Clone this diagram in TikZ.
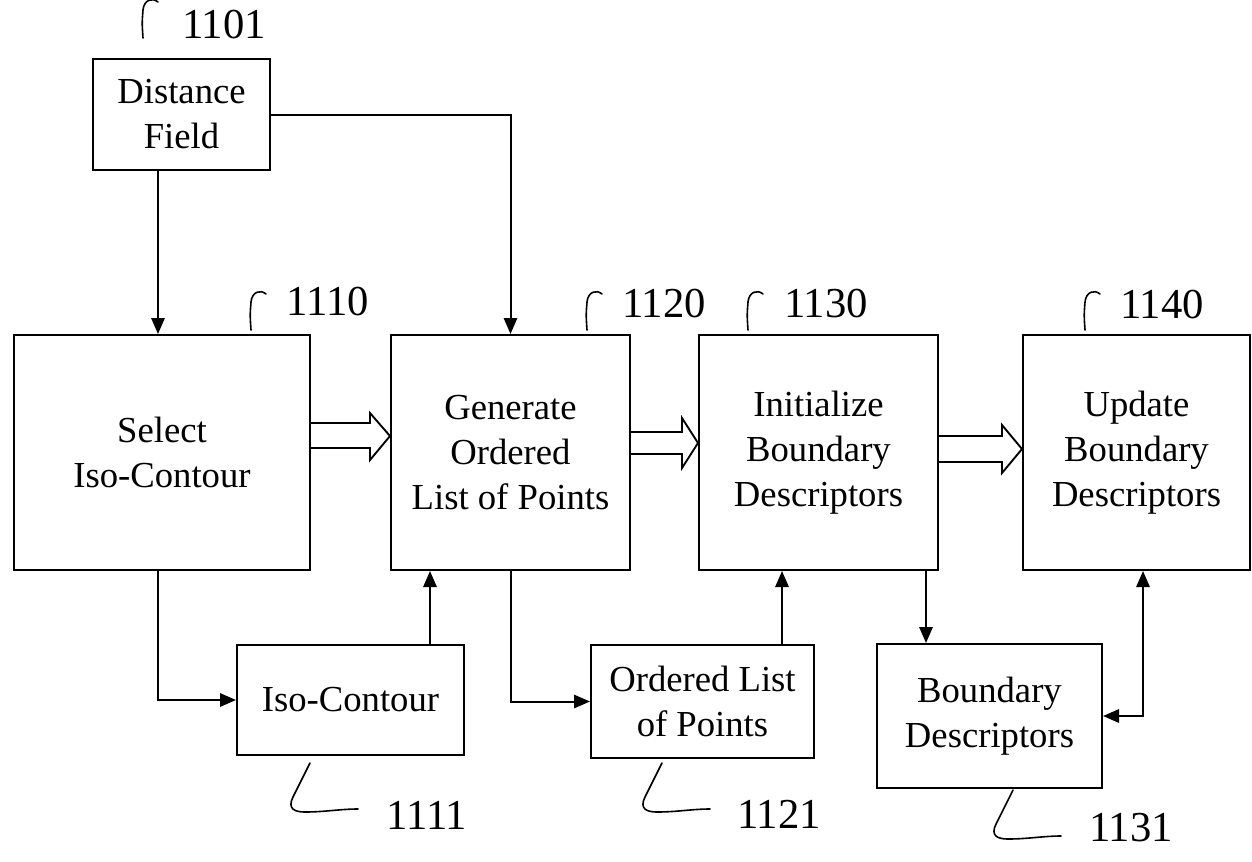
\documentclass[tikz,border=0pt]{standalone}
\usepackage{fontspec}
\setmainfont{Liberation Serif}
\usetikzlibrary{arrows.meta}
\begin{document}
\begin{tikzpicture}[x=0.75pt,y=-0.75pt,
  box/.style={draw,line width=1.5pt,inner sep=0pt,align=center,font=\fontsize{27.5}{33.75}\selectfont},
  lbl/.style={font=\fontsize{32}{38}\selectfont,inner sep=0pt},
  arr/.style={line width=1.5pt,-{Triangle[length=12pt,width=10pt]}},
  darr/.style={line width=1.5pt,{Triangle[length=12pt,width=10pt]}-{Triangle[length=12pt,width=10pt]}},
  hollow/.style={line width=1.4pt,line join=miter},
  hook/.style={line width=1.2pt,line cap=round}]
\useasboundingbox (0,0) rectangle (1252,861);
% boxes
\node[box,minimum width=132.75pt,minimum height=83.25pt] (df) at (181.5,114.5) {Distance\\Field};
\node[box,minimum width=222pt,minimum height=176.25pt] (sel) at (162,452.5) {Select\\Iso-Contour};
\node[box,minimum width=179.25pt,minimum height=176.25pt] (gen) at (510.5,452.5) {Generate\\Ordered\\List of Points};
\node[box,minimum width=179.25pt,minimum height=176.25pt] (ini) at (818.5,452.5) {Initialize\\Boundary\\Descriptors};
\node[box,minimum width=170.25pt,minimum height=176.25pt] (upd) at (1136.5,452.5) {Update\\Boundary\\Descriptors};
\node[box,minimum width=170.25pt,minimum height=82.5pt] (iso) at (350.5,700) {Iso-Contour};
\node[box,minimum width=167.25pt,minimum height=84.75pt] (ord) at (702.5,701.5) {Ordered List\\of Points};
\node[box,minimum width=168.75pt,minimum height=108pt] (bd) at (989.5,716) {Boundary\\Descriptors};
% connectors
\coordinate (c1) at (158,0);
\coordinate (c2) at (430,0);
\coordinate (c3) at (782,0);
\coordinate (c4) at (926,0);
\coordinate (c5) at (1143,0);
\draw[arr] (c1 |- df.south) -- (c1 |- sel.north);
\draw[arr] (df.east) -| (gen.north);
\draw[arr] (c1 |- sel.south) |- (iso.west);
\draw[arr] (c2 |- iso.north) -- (c2 |- gen.south);
\draw[arr] (gen.south) |- (ord.west);
\draw[arr] (c3 |- ord.north) -- (c3 |- ini.south);
\draw[arr] (c4 |- ini.south) -- (c4 |- bd.north);
\draw[darr] (c5 |- upd.south) |- (bd.east);
% hollow arrows
\draw[hollow] (sel.east |- 0,423) -- (370,423) -- (370,413) -- (gen.west |- 0,436) -- (370,460) -- (370,448) -- (sel.east |- 0,448);
\draw[hollow] (gen.east |- 0,432) -- (682,432) -- (682,418) -- (ini.west |- 0,443) -- (682,468) -- (682,454) -- (gen.east |- 0,454);
\draw[hollow] (ini.east |- 0,436) -- (1002,436) -- (1002,425) -- (upd.west |- 0,449) -- (1002,473) -- (1002,462) -- (ini.east |- 0,462);
% labels
\node[lbl] (l1101) at (224,25) {1101};
\node[lbl] (l1110) at (328,302) {1110};
\node[lbl] (l1120) at (664,304) {1120};
\node[lbl] (l1130) at (826,304) {1130};
\node[lbl] (l1140) at (1162,305) {1140};
\node[lbl] (l1111) at (427,815) {1111};
\node[lbl] (l1121) at (779,814) {1121};
\node[lbl] (l1131) at (1131,828) {1131};
% top hooks
\foreach \hx/\hy in {143/38, 251/330, 587/330, 748/330, 1085/330}{
  \draw[hook] (\hx,\hy) .. controls (\hx-1,\hy-15) .. (\hx,\hy-28) .. controls (\hx+1,\hy-38) and (\hx+9,\hy-41) .. (\hx+15,\hy-36);
}
% bottom hooks
\foreach \sx/\sy in {310/763, 662/763, 1013/790}{
  \draw[hook] (\sx,\sy) -- (\sx-17,\sy+34) .. controls (\sx-23,\sy+46) and (\sx-15,\sy+49) .. (\sx-5,\sy+49) .. controls (\sx+15,\sy+49) and (\sx+30,\sy+46) .. (\sx+48,\sy+46);
}
\end{tikzpicture}
\end{document}
